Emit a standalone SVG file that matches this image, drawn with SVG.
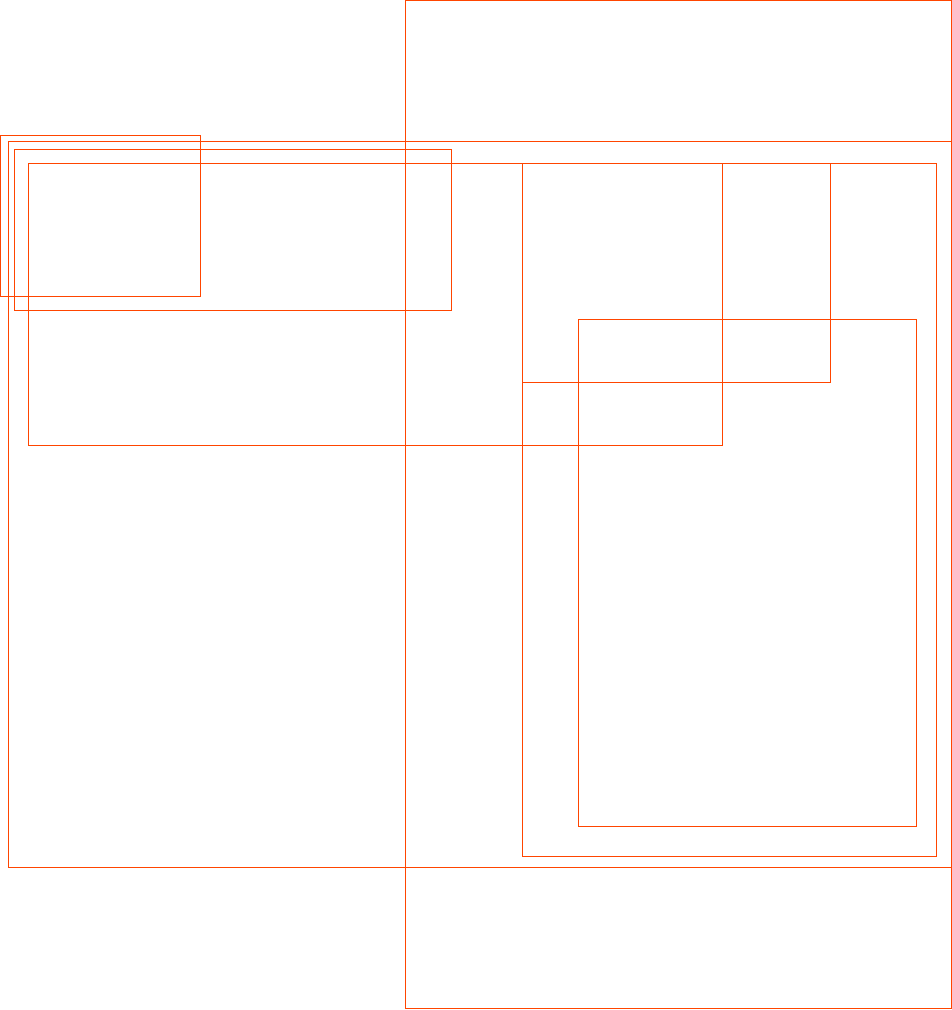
<svg xmlns="http://www.w3.org/2000/svg" width="952" height="1010" viewBox="0 0 952 1010">
<style>rect{fill:none;stroke:#ff4500;stroke-width:1}</style>
<rect width="952" height="1010" style="fill:#fff;stroke:none"/>
<g id="n1"><rect x="405.5" y="0.5" width="546" height="1008"/></g>
<g id="n2"><rect x="0.5" y="135.5" width="200" height="161"/></g>
<g id="n3"><rect x="8.5" y="141.5" width="943" height="726"/></g>
<g id="n4"><rect x="14.5" y="149.5" width="437" height="161"/></g>
<g id="n5"><rect x="28.5" y="163.5" width="694" height="282"/></g>
<g id="n6"><rect x="522.5" y="163.5" width="414" height="693"/></g>
<g id="n7"><rect x="522.5" y="163.5" width="308" height="219"/></g>
<g id="n8"><rect x="578.5" y="319.5" width="338" height="507"/></g>
<g id="connectors"></g>
</svg>
